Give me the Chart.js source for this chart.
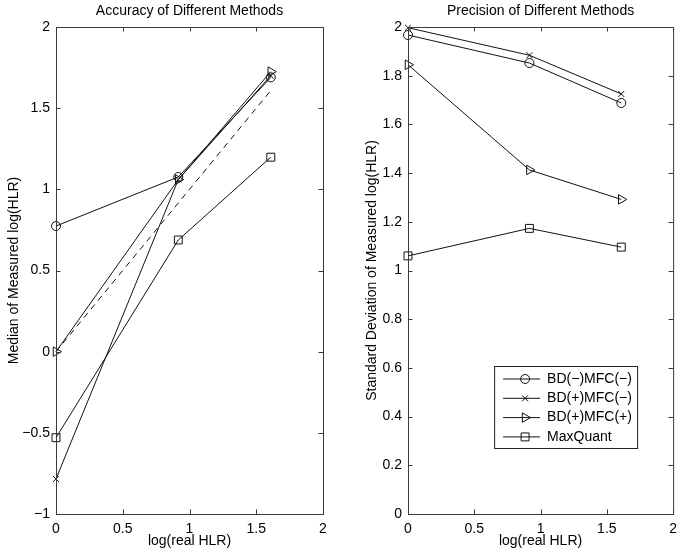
<!DOCTYPE html>
<html>
<head>
<meta charset="utf-8">
<script src="https://cdn.jsdelivr.net/npm/chart.js@4.4.1/dist/chart.umd.min.js"></script>
<style>
    body { margin: 0; background: #fff; }
    .panel { position: absolute; top: 0; width: 342px; height: 556px; }
</style>
</head>
<body>
<div class="panel" style="left:0"><canvas id="accuracyChart" width="342" height="556"></canvas></div>
<div class="panel" style="left:342px"><canvas id="precisionChart" width="342" height="556"></canvas></div>
<script>
// x = log(real HLR) for ratios 1, 2.5 and 5
const realLogHLR = [0, 0.916, 1.609];
const methodNames = ['BD(\u2212)MFC(\u2212)', 'BD(+)MFC(\u2212)', 'BD(+)MFC(+)', 'MaxQuant'];

// median of measured log(HLR)
const medianBdNegMfcNeg = [0.774, 1.076, 1.69];
const medianBdPosMfcNeg = [-0.784, 1.06, 1.70];
const medianBdPosMfcPos = [0.0, 1.06, 1.725];
const medianMaxQuant = [-0.53, 0.688, 1.198];
const idealLine = [0, 0.916, 1.609];

// standard deviation of measured log(HLR)
const sdBdNegMfcNeg = [1.967, 1.852, 1.688];
const sdBdPosMfcNeg = [1.997, 1.884, 1.725];
const sdBdPosMfcPos = [1.845, 1.413, 1.292];
const sdMaxQuant = [1.06, 1.173, 1.096];

const xTicks = [0, 0.5, 1, 1.5, 2];

const FONT = '"Liberation Sans", Arial, Helvetica, sans-serif';
Chart.defaults.font.family = FONT;
Chart.defaults.font.size = 14;
Chart.defaults.color = '#000';

const markers = [
    { pointStyle: 'circle', radius: 4.5, rotation: 0 },
    { pointStyle: 'crossRot', radius: 4.2, rotation: 0 },
    { pointStyle: 'triangle', radius: 5.5, rotation: 90 },
    { pointStyle: 'rect', radius: 5.6, rotation: 0 }
];

function toPoints(values) {
    return values.map((v, i) => ({ x: realLogHLR[i], y: v }));
}

function makeDataset(label, values, marker) {
    return {
        label: label,
        data: toPoints(values),
        borderColor: '#111',
        borderWidth: 1,
        pointStyle: marker.pointStyle,
        pointRadius: marker.radius,
        pointRotation: marker.rotation,
        pointBorderColor: '#111',
        pointBackgroundColor: 'rgba(0,0,0,0)',
        pointBorderWidth: 1,
        fill: false,
        tension: 0,
        clip: false
    };
}

function fmt(v) {
    return String(Number(v.toFixed(2))).replace('-', '\u2212');
}

// frame with inward tick marks on all four sides
const matlabAxes = {
    id: 'matlabAxes',
    afterDatasetsDraw(chart) {
        const { ctx, chartArea: a, scales: { x, y } } = chart;
        const len = 4.5;
        ctx.save();
        ctx.strokeStyle = '#3a3a3a';
        ctx.lineWidth = 1;
        ctx.strokeRect(a.left + 0.5, a.top + 0.5, a.right - a.left, a.bottom - a.top);
        ctx.beginPath();
        x.ticks.forEach(t => {
            const px = Math.round(x.getPixelForValue(t.value)) + 0.5;
            ctx.moveTo(px, a.bottom); ctx.lineTo(px, a.bottom - len);
            ctx.moveTo(px, a.top); ctx.lineTo(px, a.top + len);
        });
        y.ticks.forEach(t => {
            const py = Math.round(y.getPixelForValue(t.value)) + 0.5;
            ctx.moveTo(a.left, py); ctx.lineTo(a.left + len, py);
            ctx.moveTo(a.right, py); ctx.lineTo(a.right - len, py);
        });
        ctx.stroke();
        ctx.restore();
    }
};

// boxed legend with line + marker samples
const boxLegend = {
    id: 'boxLegend',
    afterDraw(chart) {
        const ctx = chart.ctx;
        const a = chart.chartArea;
        const w = 143, h = 82;
        const left = a.right - 36 - w;
        const top = 366;
        ctx.save();
        ctx.fillStyle = '#fff';
        ctx.fillRect(left, top, w, h);
        ctx.strokeStyle = '#222';
        ctx.lineWidth = 1;
        ctx.strokeRect(left + 0.5, top + 0.5, w, h);
        chart.data.datasets.forEach((ds, i) => {
            const cy = top + 13 + i * 19.3;
            ctx.strokeStyle = '#111';
            ctx.beginPath();
            ctx.moveTo(left + 9, cy);
            ctx.lineTo(left + 46, cy);
            ctx.stroke();
            ctx.fillStyle = 'rgba(0,0,0,0)';
            Chart.helpers.drawPoint(ctx, {
                pointStyle: ds.pointStyle,
                rotation: ds.pointRotation,
                radius: ds.pointRadius,
                borderWidth: 1
            }, left + 31, cy);
            ctx.fillStyle = '#000';
            ctx.font = '14px ' + FONT;
            ctx.textBaseline = 'middle';
            ctx.textAlign = 'left';
            ctx.fillText(ds.label, left + 53, cy);
        });
        ctx.restore();
    }
};

function axisOptions(yMin, yMax, yStep, yTitle, yWidth, yTitlePad) {
    return {
        x: {
            type: 'linear',
            min: 0, max: 2,
            afterBuildTicks: s => { s.ticks = xTicks.map(v => ({ value: v })); },
            ticks: { padding: 7, callback: v => fmt(v), maxRotation: 0 },
            grid: { display: false, drawTicks: false },
            border: { display: false },
            title: { display: true, text: 'log(real HLR)', padding: { top: 0, bottom: 6.5 } },
            afterFit: s => { s.height = 42; }
        },
        y: {
            type: 'linear',
            min: yMin, max: yMax,
            ticks: { stepSize: yStep, padding: 6, callback: v => fmt(v) },
            grid: { display: false, drawTicks: false },
            border: { display: false },
            title: { display: true, text: yTitle, padding: { top: yTitlePad, bottom: 0 } },
            afterFit: s => { s.width = yWidth; }
        }
    };
}

function titleOptions(text) {
    return {
        display: true,
        text: text,
        fullSize: false,
        font: { size: 14, weight: 'normal' },
        color: '#000',
        padding: { top: 2.6, bottom: 7.6 }
    };
}

function createAccuracyChart() {
    const ctx = document.getElementById('accuracyChart').getContext('2d');
    const datasets = [
        makeDataset(methodNames[0], medianBdNegMfcNeg, markers[0]),
        makeDataset(methodNames[1], medianBdPosMfcNeg, markers[1]),
        makeDataset(methodNames[2], medianBdPosMfcPos, markers[2]),
        makeDataset(methodNames[3], medianMaxQuant, markers[3]),
        {
            label: 'ideal',
            data: toPoints(idealLine),
            borderColor: '#111',
            borderWidth: 1,
            borderDash: [6, 5],
            pointRadius: 0,
            fill: false,
            clip: false
        }
    ];
    new Chart(ctx, {
        type: 'line',
        data: { datasets: datasets },
        options: {
            responsive: false,
            animation: false,
            layout: { padding: { left: 0, right: 19, top: 0, bottom: 0 } },
            scales: axisOptions(-1, 2, 0.5, 'Median of Measured log(HLR)', 56, 5.6),
            plugins: {
                legend: { display: false },
                tooltip: { enabled: false },
                title: titleOptions('Accuracy of Different Methods')
            }
        },
        plugins: [matlabAxes]
    });
}

function createPrecisionChart() {
    const ctx = document.getElementById('precisionChart').getContext('2d');
    const datasets = [
        makeDataset(methodNames[0], sdBdNegMfcNeg, markers[0]),
        makeDataset(methodNames[1], sdBdPosMfcNeg, markers[1]),
        makeDataset(methodNames[2], sdBdPosMfcPos, markers[2]),
        makeDataset(methodNames[3], sdMaxQuant, markers[3])
    ];
    new Chart(ctx, {
        type: 'line',
        data: { datasets: datasets },
        options: {
            responsive: false,
            animation: false,
            layout: { padding: { left: 0, right: 7, top: 0, bottom: 0 } },
            scales: axisOptions(0, 2, 0.2, 'Standard Deviation of Measured log(HLR)', 66, 21.6),
            plugins: {
                legend: { display: false },
                tooltip: { enabled: false },
                title: titleOptions('Precision of Different Methods')
            }
        },
        plugins: [matlabAxes, boxLegend]
    });
}

document.addEventListener('DOMContentLoaded', () => {
    createAccuracyChart();
    createPrecisionChart();
});
</script>
</body>
</html>
